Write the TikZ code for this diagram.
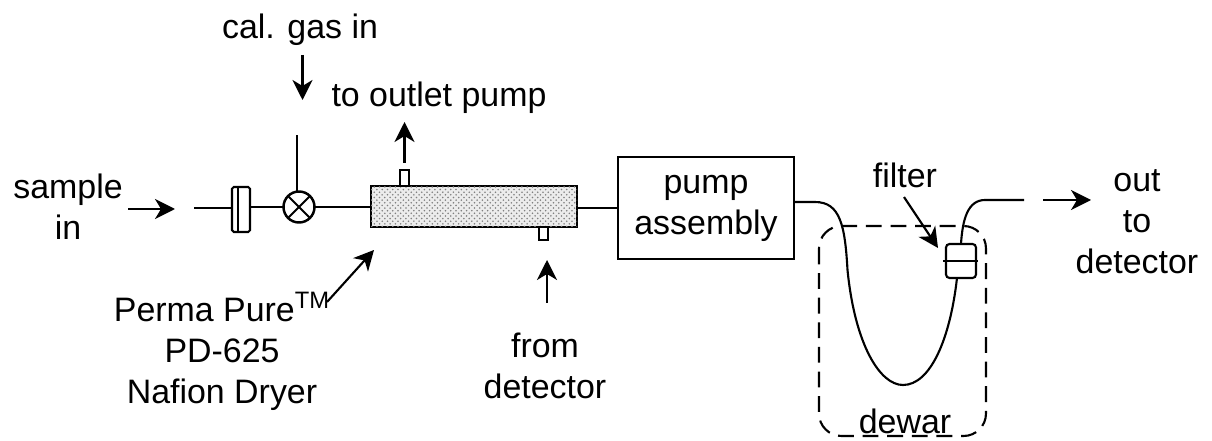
\documentclass[tikz,border=0pt]{standalone}
\usepackage{fontspec}
\setmainfont{Liberation Sans}
\usepackage{tikz}
\usetikzlibrary{positioning,arrows.meta,patterns}

\tikzset{
    label/.style={align=center, font=\fontsize{19.3}{23.3}\selectfont, inner sep=0pt},
    part/.style={draw, rectangle, inner sep=0pt, outer sep=0pt},
    flow/.style={-{Stealth[length=.4cm,width=.4cm,inset=.12cm]}}
}

\begin{document}
\begin{tikzpicture}[line width=1.2pt]
    \useasboundingbox (0,0) rectangle (24.24,8.8);

    \node[part, rounded corners=1pt, minimum width=.36cm, minimum height=.9cm](filterin) at (4.82,4.61) {};
    \draw (4.76,5.06) -- (4.76,4.16);
    \node[part, circle, line width=1.4pt, minimum size=.62cm](valve) at (5.98,4.66) {};
    \draw (valve.north west) -- (valve.south east);
    \draw (valve.south west) -- (valve.north east);
    \node[part, line width=1.7pt, fill=gray!15, postaction={pattern=crosshatch dots, pattern color=black!50}, minimum width=4.12cm, minimum height=.82cm](dryer) at (9.48,4.67) {};
    \node[part, fill=white, minimum width=.17cm, minimum height=.32cm](porttop) at (8.09,5.24) {};
    \node[part, fill=white, minimum width=.17cm, minimum height=.26cm](portbottom) at (10.87,4.13) {};
    \node[part, label, minimum width=3.52cm, minimum height=2.04cm](pump) at (14.12,4.64) {pump\\assembly};
    \node[part, rounded corners=2pt, minimum width=.6cm, minimum height=.68cm](filter) at (19.22,3.58) {};

    \node[label](sample) at (1.36,4.66) {sample\\in};
    \node[label](calgas) at (6,8.2) {cal. gas in};
    \node[label](outlet) at (8.78,6.84) {to outlet pump};
    \node[label](perma) at (4.44,1.78) {Perma Pure\textsuperscript{TM}\\PD-625\\Nafion Dryer};
    \node[label](from) at (10.9,1.48) {from\\detector};
    \node[label](filtertext) at (18.1,5.3) {filter};
    \node[label](out) at (22.74,4.36) {out\\to\\detector};
    \node[label](dewar) at (18.1,.38) {dewar};

    \coordinate(linestart) at (3.88,4.64);
    \coordinate(valvetop) at (5.94,6.1);
    \coordinate(hoseend) at (20.48,4.8);

    % tubing
    \draw(linestart) -- (filterin.west |- linestart);
    \draw(filterin.east |- valve) -- (valve);
    \draw(valvetop |- valve.north) -- (valvetop);
    \draw(valve) -- (dryer.west |- valve);
    \draw(dryer.east |- pump) -- (pump);
    \draw(pump.east |- 0,4.76) -- (16.3,4.76) .. controls (16.8,4.76) and (16.9,4.3) .. (16.95,3.4)
        .. controls (17.1,1.9) and (17.6,1.1) .. (18.06,1.1)
        .. controls (18.6,1.1) and (19,2) .. (filter.south -| 19.14,0);
    \draw(filter.north) .. controls (19.25,4.4) and (19.35,4.8) .. (19.7,4.8) -- (hoseend);
    \draw (18.86,3.58) -- (19.56,3.58);

    % dewar
    \draw[dash pattern=on 9pt off 5pt, rounded corners=.45cm] (16.38,4.28) rectangle (19.72,.08);

    % arrows
    \draw[flow] (2.56,4.62) -- (3.5,4.62);
    \draw[flow] (6.05,7.7) -- (6.05,6.8);
    \draw[flow] (8.09,5.54) -- (8.09,6.36);
    \draw[flow] (10.94,2.74) -- (10.94,3.6);
    \draw[flow] (6.54,2.76) -- (7.48,3.8);
    \draw[flow] (18.08,4.86) -- (18.76,3.84);
    \draw[flow] (20.86,4.8) -- (21.82,4.8);
\end{tikzpicture}
\end{document}
